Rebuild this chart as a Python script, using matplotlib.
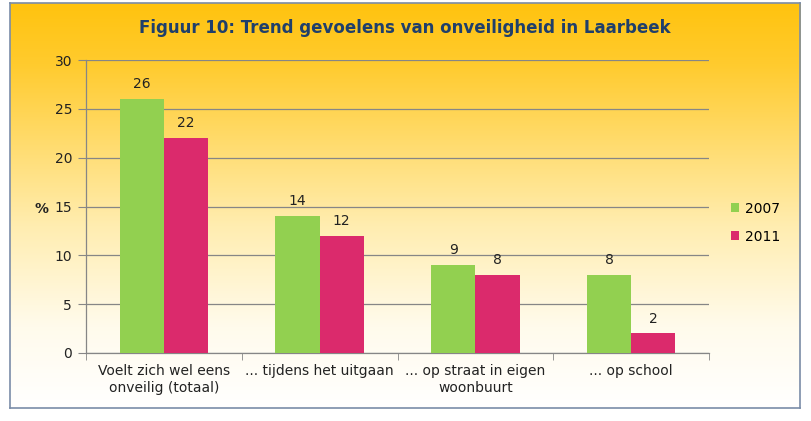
import numpy as np
import matplotlib
matplotlib.use("Agg")
import matplotlib.pyplot as plt
from matplotlib.colors import LinearSegmentedColormap

categories = ["Voelt zich wel eens\nonveilig (totaal)", "... tijdens het uitgaan",
              "... op straat in eigen\nwoonbuurt", "... op school"]
series_names = ["2007", "2011"]
values_2007 = [26, 14, 9, 8]
values_2011 = [22, 12, 8, 2]
yticks = [0, 5, 10, 15, 20, 25, 30]
title = "Figuur 10: Trend gevoelens van onveiligheid in Laarbeek"

W, H = 811, 421
fig = plt.figure(figsize=(W / 100, H / 100), dpi=100)
fig.patch.set_facecolor("white")

# background frame with gradient
fx0, fy0, fx1, fy1 = 10, 3, 800, 408
bg = fig.add_axes([fx0 / W, 1 - fy1 / H, (fx1 - fx0) / W, (fy1 - fy0) / H])
cmap = LinearSegmentedColormap.from_list("g", [(0.0, "#FFC30F"), (0.15, "#FFCB2E"),
                                               (0.55, "#FFEDB0"), (0.8, "#FFFBEC"), (1.0, "#FFFFFF")])
grad = np.linspace(0, 1, 256).reshape(-1, 1)
bg.imshow(grad, aspect="auto", cmap=cmap, extent=[0, 1, 0, 1], origin="upper")
bg.set_xlim(0, 1); bg.set_ylim(0, 1)
bg.set_xticks([]); bg.set_yticks([])
for s in bg.spines.values():
    s.set_color("#7A8CA8")
    s.set_linewidth(1.2)

# plot axes
ax0, ay0, ax1, ay1 = 86, 60, 709, 353
ax = fig.add_axes([ax0 / W, 1 - ay1 / H, (ax1 - ax0) / W, (ay1 - ay0) / H])
ax.patch.set_alpha(0)

x = np.arange(len(categories))
w = 0.284
b1 = ax.bar(x - w / 2, values_2007, w, color="#92D050", label=series_names[0], zorder=3)
b2 = ax.bar(x + w / 2, values_2011, w, color="#DB2A6C", label=series_names[1], zorder=3)
for bars, vals in ((b1, values_2007), (b2, values_2011)):
    for r, v in zip(bars, vals):
        ax.text(r.get_x() + r.get_width() / 2, v + 0.8, str(v), ha="center", va="bottom",
                fontsize=10, fontfamily="DejaVu Sans", color="#222222")

ax.set_xlim(-0.5, len(categories) - 0.5)
ax.set_ylim(0, 30)
ax.set_yticks(yticks)
ax.set_yticklabels([str(t) for t in yticks], fontsize=10, color="#222222")
ax.yaxis.grid(True, color="#868686", linewidth=0.9, zorder=0)
ax.set_axisbelow(True)
ax.tick_params(axis="y", length=6, color="#868686", pad=4)

ax.set_xticks(x)
ax.set_xticklabels(categories, fontsize=10, color="#222222", linespacing=1.3)
ax.tick_params(axis="x", length=0, pad=8)
ax.set_xticks(np.arange(-0.5, len(categories)), minor=True)
ax.tick_params(axis="x", which="minor", length=5, color="#868686")

for side in ("top", "right"):
    ax.spines[side].set_visible(False)
for side in ("left", "bottom"):
    ax.spines[side].set_color("#868686")
    ax.spines[side].set_linewidth(0.9)

ax.set_ylabel("%", rotation=0, fontsize=10, fontweight="bold", color="#222222",
              va="center", ha="center")
ax.yaxis.set_label_coords(-0.072, 0.49)

leg = ax.legend(loc="center left", bbox_to_anchor=(1.015, 0.445), frameon=False,
                fontsize=10, handlelength=0.6, handleheight=0.6, handletextpad=0.4,
                labelspacing=1.0)

fig.text((fx0 + fx1) / 2 / W, 1 - 28 / H, title, ha="center", va="center",
         fontsize=12, fontweight="bold", color="#1F3F6B", fontfamily="DejaVu Sans")

fig.savefig("out.png", dpi=100)
